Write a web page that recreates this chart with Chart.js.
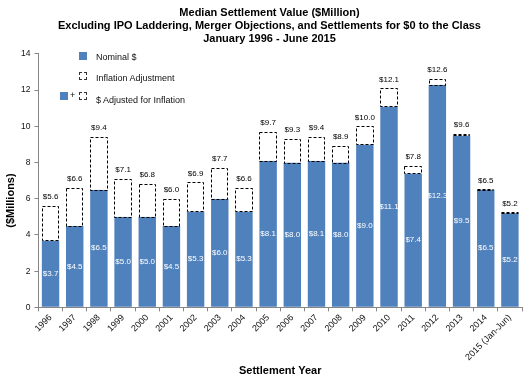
<!DOCTYPE html>
<html>
<head>
<meta charset="utf-8">
<script src="https://cdn.jsdelivr.net/npm/chart.js@4.4.1/dist/chart.umd.min.js"></script>
<style>
  html, body { margin: 0; padding: 0; background: #fff; }
  #wrap { position: relative; width: 525px; height: 383px; }
  #legend { position: absolute; left: 0; top: 0; font-family: "Liberation Sans", Arial, sans-serif; font-size: 9px; color: #111; }
  .sw { position: absolute; box-sizing: border-box; }
  .blue { background: #4F81BD; }
  .dash { background: #fff; border: 1px dashed #333; }
  .lt { position: absolute; white-space: nowrap; line-height: 10px; }
</style>
</head>
<body>
<div id="wrap">
  <canvas id="c" width="525" height="383"></canvas>
  <div id="legend">
    <div class="sw blue" style="left:79px;top:52px;width:8px;height:8px;"></div>
    <div class="lt" style="left:96px;top:52px;">Nominal $</div>
    <div class="sw dash" style="left:79px;top:72px;width:8px;height:8px;"></div>
    <div class="lt" style="left:96px;top:73px;">Inflation Adjustment</div>
    <div class="sw blue" style="left:60px;top:92px;width:8px;height:8px;"></div>
    <div class="lt" style="left:70px;top:90px;">+</div>
    <div class="sw dash" style="left:79px;top:92px;width:8px;height:8px;"></div>
    <div class="lt" style="left:96px;top:95px;">$ Adjusted for Inflation</div>
  </div>
</div>
<script>
const categories = ["1996","1997","1998","1999","2000","2001","2002","2003","2004","2005","2006","2007","2008","2009","2010","2011","2012","2013","2014","2015 (Jan-Jun)"];
const nominal = [3.7, 4.5, 6.5, 5.0, 5.0, 4.5, 5.3, 6.0, 5.3, 8.1, 8.0, 8.1, 8.0, 9.0, 11.1, 7.4, 12.3, 9.5, 6.5, 5.2];
const adjusted = [5.6, 6.6, 9.4, 7.1, 6.8, 6.0, 6.9, 7.7, 6.6, 9.7, 9.3, 9.4, 8.9, 10.0, 12.1, 7.8, 12.6, 9.6, 6.5, 5.2];
const yTicks = [0, 2, 4, 6, 8, 10, 12, 14];
const yTitle = '($Millions)';

const FONT = '"Liberation Sans", Arial, sans-serif';
const BLUE = '#4F81BD';

const decorPlugin = {
  id: 'barDecor',
  afterDatasetsDraw(chart) {
    const ctx = chart.ctx;
    const metaAdj = chart.getDatasetMeta(1);
    const metaNom = chart.getDatasetMeta(0);
    // dashed outlines for inflation adjustment
    ctx.save();
    ctx.strokeStyle = '#000';
    ctx.lineWidth = 1;
    ctx.setLineDash([3, 2]);
    metaAdj.data.forEach((el) => {
      const p = el.getProps(['x', 'y', 'base', 'width'], true);
      const l = Math.round(p.x - p.width / 2) + 0.5;
      const r = Math.round(p.x + p.width / 2) - 0.5;
      const t = Math.round(Math.min(p.y, p.base)) + 0.5;
      const b = Math.round(Math.max(p.y, p.base)) + 0.5;
      if (b - t < 1) {
        ctx.lineWidth = 2;
        ctx.beginPath(); ctx.moveTo(l, t - 0.5); ctx.lineTo(r, t - 0.5); ctx.stroke();
        ctx.lineWidth = 1;
      } else {
        ctx.strokeRect(l, t, r - l, b - t);
      }
    });
    ctx.restore();

    // value labels
    ctx.save();
    ctx.font = '8px ' + FONT;
    ctx.textAlign = 'center';
    ctx.textBaseline = 'middle';
    metaNom.data.forEach((el, i) => {
      const p = el.getProps(['x', 'y', 'base'], true);
      ctx.fillStyle = '#fff';
      ctx.fillText('$' + nominal[i].toFixed(1), p.x, (p.y + p.base) / 2);
    });
    metaAdj.data.forEach((el, i) => {
      const p = el.getProps(['x', 'y', 'base'], true);
      ctx.fillStyle = '#000';
      ctx.fillText('$' + adjusted[i].toFixed(1), p.x, Math.min(p.y, p.base) - 9);
    });
    ctx.restore();
  },
  afterDraw(chart) {
    // y-axis title (placed like the original, below the axis middle)
    const ctx = chart.ctx;
    const ys = chart.scales.y;
    ctx.save();
    ctx.font = 'bold 11px ' + FONT;
    ctx.fillStyle = '#000';
    ctx.textAlign = 'center';
    ctx.textBaseline = 'middle';
    ctx.translate(11, ys.getPixelForValue(5.9));
    ctx.rotate(-Math.PI / 2);
    ctx.fillText(yTitle, 0, 0);
    ctx.restore();
  }
};

new Chart(document.getElementById('c'), {
  type: 'bar',
  data: {
    labels: categories,
    datasets: [
      {
        label: 'Nominal $',
        data: nominal,
        backgroundColor: BLUE,
        borderWidth: 0,
        grouped: false,
        categoryPercentage: 1,
        barPercentage: 0.72,
        order: 1
      },
      {
        label: 'Inflation Adjustment',
        data: nominal.map((n, i) => [n, adjusted[i]]),
        backgroundColor: '#ffffff',
        borderWidth: 0,
        grouped: false,
        categoryPercentage: 1,
        barPercentage: 0.72,
        order: 0
      }
    ]
  },
  options: {
    responsive: false,
    animation: false,
    devicePixelRatio: 1,
    layout: { padding: { left: 17, right: 3, top: 0, bottom: 5 } },
    plugins: {
      legend: { display: false },
      tooltip: { enabled: false },
      title: {
        display: true,
        text: ['Median Settlement Value ($Million)', 'Excluding IPO Laddering, Merger Objections, and Settlements for $0 to the Class', 'January 1996 - June 2015'],
        color: '#000',
        font: { family: FONT, size: 11, weight: 'bold', lineHeight: 1.15 },
        padding: { top: 7, bottom: 9 }
      }
    },
    scales: {
      x: {
        offset: true,
        grid: { offset: true, drawOnChartArea: false, drawTicks: true, tickLength: 4, color: '#868686' },
        border: { color: '#868686' },
        ticks: { color: '#111', font: { family: FONT, size: 9 }, minRotation: 45, maxRotation: 45, padding: 1, autoSkip: false },
        title: { display: true, text: 'Settlement Year', color: '#000', font: { family: FONT, size: 11, weight: 'bold' }, padding: { top: 1, bottom: 0 } }
      },
      y: {
        min: 0,
        max: 14,
        afterBuildTicks(scale) { scale.ticks = yTicks.map(v => ({ value: v })); },
        grid: { drawOnChartArea: false, drawTicks: true, tickLength: 4, color: '#868686' },
        border: { color: '#868686' },
        ticks: { color: '#111', font: { family: FONT, size: 8.5 }, padding: 4 },
        title: { display: false }
      }
    }
  },
  plugins: [decorPlugin]
});
</script>
</body>
</html>
